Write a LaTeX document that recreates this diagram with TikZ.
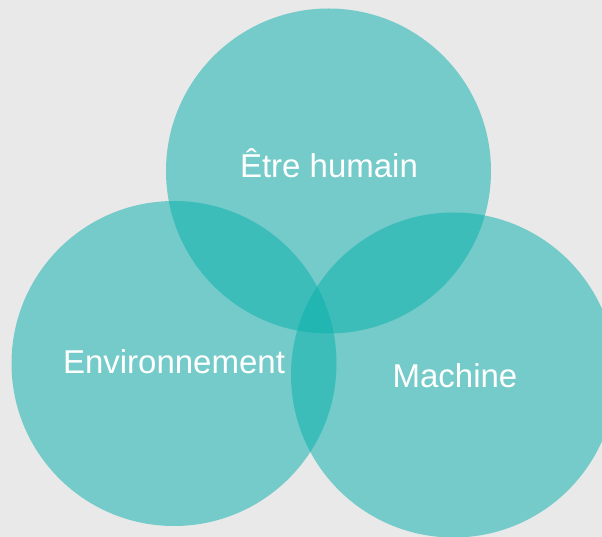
\documentclass[tikz,border=0pt]{standalone}
\usepackage{fontspec}
\setmainfont{Liberation Sans}
\definecolor{fond}{RGB}{233,233,233}
\definecolor{sarcelle}{RGB}{9,177,172}
\tikzstyle{venn}=[circle, inner sep=0pt, minimum size=325pt, fill=sarcelle, fill opacity=0.52]
\tikzstyle{lbl}=[anchor=base, text=white, font=\fontsize{33}{36}\selectfont]

\begin{document}
\begin{tikzpicture}[x=1pt, y=-1pt]
	\fill[fond] (0,0) rectangle (602,537);
	\useasboundingbox (0,0) rectangle (602,537);
	\clip (0,0) rectangle (602,537);
	%
	\draw (328.5,171) node[venn] (humain) {};
	\draw (174,363.5) node[venn] (env) {};
	\draw (453.5,375) node[venn] (mach) {};
	%
	\draw (329,178) node[lbl] (thumain) {Être humain};
	\draw (174,373) node[lbl] (tenv) {Environnement};
	\draw (455,387) node[lbl] (tmach) {Machine};
\end{tikzpicture}
\end{document}
